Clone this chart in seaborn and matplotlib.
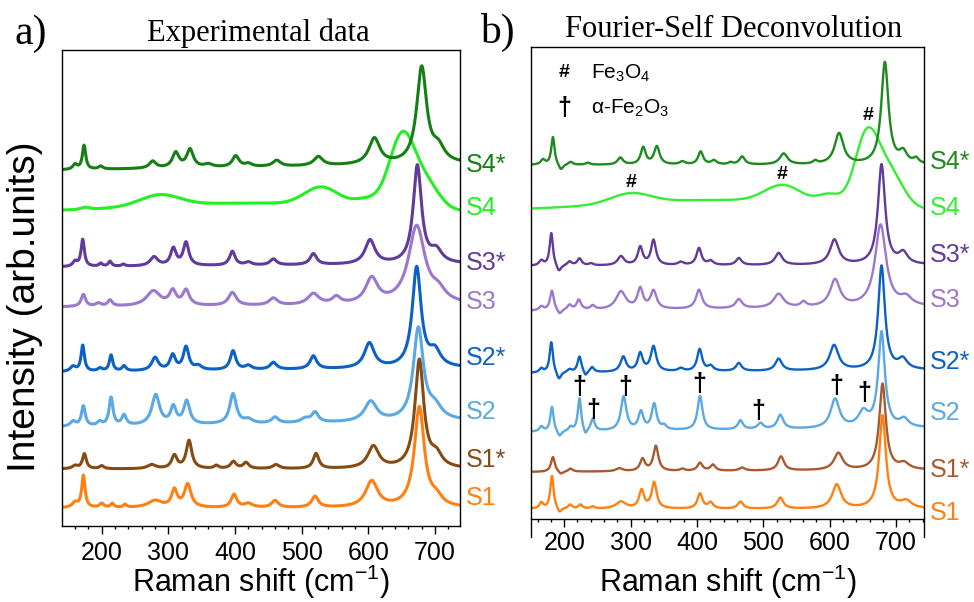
import numpy as np
import pandas as pd
import matplotlib.pyplot as plt
from matplotlib.ticker import MultipleLocator
import seaborn as sns

# Samples, bottom to top
samples = ["S1", "S1*", "S2", "S2*", "S3", "S3*", "S4", "S4*"]
exp_colors = ["#ff8010", "#854b12", "#5aa8e4", "#0b62c4", "#9b78cf", "#613a9b", "#22f022", "#157f15"]
fsd_colors = ["#ff8010", "#a85a2e", "#5aa8e4", "#0b62c4", "#9b78cf", "#613a9b", "#33ee33", "#1e8a1e"]

# baseline level (left end, right end) of each trace, arb. units
exp_base = [(18, 18), (57, 57), (99, 105), (154, 158), (219, 221), (259, 262), (314, 314), (356, 362)]
fsd_base = [(10, 10), (47, 49), (87, 91), (146, 149), (208, 212), (253, 254), (308, 308), (354, 354)]

# the broad S4 bands look gaussian, the rest lorentzian
exp_gauss = [False, False, False, False, False, False, True, False]
fsd_gauss = [False, False, False, False, False, False, True, False]

# peaks read off panel a): (Raman shift cm-1, height, FWHM)
exp_s1 = [(160, 5, 10), (172.5, 32, 6), (200, 4, 8), (216, 4, 6), (235, 3, 6), (280, 7, 25),
          (309, 17, 10), (329, 23, 12), (398.5, 13, 10), (420, 4, 15), (460, 7, 12),
          (520, 11, 12), (605, 26, 22), (676.5, 100, 18), (702, 8, 20)]
exp_s1s = [(160, 3, 10), (174, 15, 7), (200, 3, 8), (275, 4, 15), (309, 13, 10), (331, 28, 10),
           (372, 3, 8), (397.5, 7, 10), (416.5, 6, 10), (461.5, 4, 12), (521.5, 15, 10),
           (607.5, 22, 20), (676.5, 108, 16), (702, 12, 20)]
exp_s2 = [(157, 5, 10), (172.5, 20, 7), (197, 4, 8), (214, 28, 7), (233.5, 10, 8), (281, 30, 14),
          (307.5, 17, 10), (327.5, 23, 11), (397, 30, 12), (420, 4, 15), (460, 6, 12),
          (505, 4, 15), (520, 10, 12), (603.5, 20, 22), (675, 92, 18), (700, 12, 25)]
exp_s2s = [(157, 5, 10), (171.5, 26, 6), (197.5, 3, 8), (214, 16, 6), (233.5, 5, 7), (280, 13, 12),
           (306.5, 15, 10), (326.5, 23, 10), (345, 4, 12), (397, 19, 10), (420, 4, 12),
           (457.5, 7, 12), (517.5, 13, 12), (601.5, 25, 18), (672.5, 100, 16), (700, 15, 20)]
exp_s3 = [(172.5, 12, 8), (195, 3, 10), (212.5, 6, 8), (277.5, 15, 25), (306.5, 14, 12),
          (326.5, 15, 12), (396, 13, 14), (457.5, 7, 15), (517.5, 11, 20), (552, 7, 15),
          (605, 25, 22), (672.5, 78, 30), (705, 10, 25)]
exp_s3s = [(160, 5, 8), (171.5, 27, 6), (198.5, 3, 6), (212.5, 5, 6), (232.5, 2, 6), (278.5, 9, 14),
           (307.5, 17, 10), (326.5, 23, 10), (396, 14, 10), (420, 3, 12), (457.5, 6, 12),
           (517.5, 11, 12), (602.5, 24, 18), (673.5, 98, 15), (702, 12, 20)]
exp_s4 = [(175, 2, 15), (287, 11, 70), (420, 9, 380), (530, 18, 60), (600, 8, 50),
          (651, 73, 45), (688, 24, 45)]
exp_s4s = [(160, 5, 8), (173.5, 24, 6), (198.5, 3, 8), (276.5, 7, 12), (311, 15, 12),
           (332.5, 18, 12), (360, 3, 15), (401, 11, 12), (420, 3, 12), (462.5, 6, 14),
           (525, 9, 16), (609, 26, 20), (680, 96, 18), (705, 14, 22)]

# peaks read off panel b), negative heights are the FSD side lobes
fsd_s1 = [(165.5, 6, 7), (181.5, 33, 6), (193, -5, 7), (209, 4, 7), (224.5, 4, 7), (243, 2, 7),
          (285.5, 7, 18), (316.5, 18, 9), (335.5, 26, 9), (404.5, 15, 9), (420.5, 6, 9),
          (465.5, 7, 10), (525.5, 11, 11), (610.5, 24, 16), (679.5, 93, 12), (715, 7, 20)]
fsd_s1s = [(183, 15, 7), (195, -3, 8), (209.5, 3, 8), (283, 3, 12), (318, 12, 9), (338, 25, 9),
           (378, 2, 8), (404.5, 8, 9), (424, 6, 9), (468, 3, 10), (526.5, 14, 11),
           (613, 17, 16), (679.5, 86, 12), (712, 6, 18)]
fsd_s2 = [(165.5, 5, 7), (181.5, 25, 6), (193, -6, 8), (209.5, 4, 7), (223, 33, 6), (232, -6, 6),
          (243, 12, 7), (289.5, 34, 10), (315.5, 18, 9), (335.5, 26, 9), (350.5, 4, 8),
          (404.5, 34, 9), (465.5, 9, 9), (495.5, 6, 10), (525.5, 14, 11), (608, 29, 16),
          (650.5, 15, 18), (678, 95, 12), (712, 8, 16)]
fsd_s2s = [(165.5, 4, 7), (180.5, 31, 6), (192, -8, 8), (208, 3, 8), (223, 16, 7), (232, -5, 6),
           (242, 5, 7), (289, 15, 10), (314.5, 18, 9), (334.5, 25, 10), (375.5, 3, 10),
           (404, 22, 9), (420.5, 5, 10), (463, 8, 10), (523, 12, 12), (606.5, 25, 16),
           (678, 104, 12), (710, 10, 16)]
fsd_s3 = [(165.5, 4, 8), (181.5, 20, 7), (193, -5, 8), (208, 5, 8), (222, 10, 8), (243, 4, 8),
          (285.5, 18, 18), (314.5, 20, 10), (334.5, 18, 11), (403, 19, 11), (463, 9, 12),
          (523, 14, 18), (560.5, 5, 10), (608, 27, 18), (676.5, 82, 20), (715, 8, 20)]
fsd_s3s = [(165.5, 5, 8), (180.5, 33, 6), (192, -7, 8), (208, 4, 8), (223, 7, 8), (240.5, 2, 8),
           (285.5, 9, 12), (314.5, 18, 9), (334.5, 25, 9), (375.5, 3, 10), (403, 17, 9),
           (420.5, 4, 10), (463, 7, 10), (523, 12, 13), (607, 25, 16), (678, 100, 13),
           (710.5, 11, 16)]
fsd_s4 = [(300, 10, 70), (430, 11, 380), (530, 17, 65), (600, 10, 40), (655.5, 70, 42),
          (690, 35, 48)]
fsd_s4s = [(168, 5, 8), (183, 28, 6), (195, -6, 8), (209.5, 3, 8), (235.5, 2, 8), (284.5, 7, 10),
           (319, 17, 9), (339.5, 18, 10), (378, 3, 10), (405.5, 13, 9), (425.5, 4, 10),
           (450.5, 2, 8), (468, 8, 10), (530.5, 11, 14), (578, 3, 8), (614, 31, 16),
           (683, 102, 13), (710.5, 11, 14), (730, 5, 10)]

exp_peaks = [exp_s1, exp_s1s, exp_s2, exp_s2s, exp_s3, exp_s3s, exp_s4, exp_s4s]
fsd_peaks = [fsd_s1, fsd_s1s, fsd_s2, fsd_s2s, fsd_s3, fsd_s3s, fsd_s4, fsd_s4s]

# phase markers in panel b): (shift, height)
magnetite_marks = [(300.5, 336), (528, 344), (658, 403)]
hematite_marks = [(223, 132), (243, 109), (291.5, 132), (404, 135), (492, 108), (610.5, 133), (652, 126)]

# where the sample names sit on the right of each panel (data units)
exp_label_y = [28, 66, 114, 168, 224, 263, 318, 361]
fsd_label_y = [6, 49, 106, 157, 219, 264, 311, 357]


def trace(shift, base, peaks, gauss):
    y = np.linspace(base[0], base[1], shift.size)
    for pos, height, fwhm in peaks:
        u = (shift - pos) / (fwhm / 2)
        if gauss:
            y = y + height * np.exp(-np.log(2) * u ** 2)
        else:
            y = y + height / (1 + u ** 2)
    return y


def draw_panel(ax, shift, bases, peaks, gauss, colors, label_y, lw, tick_pad):
    frames = []
    for name, base, pk, g in zip(samples, bases, peaks, gauss):
        frames.append(pd.DataFrame({"shift": shift, "intensity": trace(shift, base, pk, g),
                                    "sample": name}))
    df = pd.concat(frames, ignore_index=True)
    sns.lineplot(data=df, x="shift", y="intensity", hue="sample", hue_order=samples,
                 palette=dict(zip(samples, colors)), estimator=None, sort=False,
                 legend=False, lw=lw, ax=ax)
    for name, color, y in zip(samples, colors, label_y):
        ax.annotate(name, xy=(1, y), xycoords=("axes fraction", "data"), xytext=(4, 0),
                    textcoords="offset points", va="center", ha="left",
                    color=color, fontsize=18, annotation_clip=False)
    ax.xaxis.set_major_locator(MultipleLocator(100))
    ax.xaxis.set_minor_locator(MultipleLocator(20))
    ax.set_yticks([])
    ax.set_ylabel("")
    ax.set_xlabel("Raman shift (cm$^{-1}$)", fontsize=22)
    ax.tick_params(axis="x", which="major", direction="out", length=6, width=1,
                   labelsize=18, pad=tick_pad, colors="black")
    ax.tick_params(axis="x", which="minor", direction="out", length=2.5, width=1, colors="black")
    for sp in ax.spines.values():
        sp.set_visible(True)
        sp.set_linewidth(1.0)
        sp.set_color("black")


def main():
    sns.set_style("ticks")
    plt.rcParams["font.family"] = ["Liberation Sans", "DejaVu Sans"]
    plt.rcParams["mathtext.default"] = "regular"
    plt.rcParams["text.color"] = "black"
    plt.rcParams["axes.labelcolor"] = "black"

    fig = plt.figure(figsize=(9.74, 6.02), dpi=100)
    ax1 = fig.add_axes([0.0637, 0.1262, 0.4086, 0.7907])
    ax2 = fig.add_axes([0.5452, 0.1379, 0.4035, 0.7841])

    exp_shift = np.arange(140, 738.5, 0.5)
    fsd_shift = np.arange(150, 742.5, 0.5)

    draw_panel(ax1, exp_shift, exp_base, exp_peaks, exp_gauss, exp_colors, exp_label_y, 2.2, 5)
    draw_panel(ax2, fsd_shift, fsd_base, fsd_peaks, fsd_gauss, fsd_colors, fsd_label_y, 1.7, 3)
    ax1.set_xlim(140.5, 737.5)
    ax1.set_ylim(0, 476)
    ax2.set_xlim(150, 742)
    ax2.set_ylim(0, 472)
    ax2.spines["left"].set_bounds(-18, 472)
    ax2.spines["right"].set_bounds(-18, 472)
    # x labels: top edge at about y = 563 px in both panels
    ax1.xaxis.set_label_coords(0.5, -(563 - 526) / 476)
    ax2.xaxis.set_label_coords(0.5, -(563 - 519) / 472)

    for x, y in magnetite_marks:
        ax2.text(x, y, "#", ha="center", va="center", fontsize=14, fontweight="bold")
    for x, y in hematite_marks:
        ax2.text(x, y, "\u2020", ha="center", va="center", fontsize=18, fontweight="bold")
    ax2.text(200.5, 446, "#", ha="center", va="center", fontsize=14, fontweight="bold")
    ax2.text(240, 446, "Fe$_3$O$_4$", ha="left", va="center", fontsize=15)
    ax2.text(200.5, 411, "\u2020", ha="center", va="center", fontsize=18, fontweight="bold")
    ax2.text(240, 411, "\u03b1-Fe$_2$O$_3$", ha="left", va="center", fontsize=15)

    serif = ["Liberation Serif", "DejaVu Serif"]
    fig.text(0.265, 0.932, "Experimental data", ha="center", va="baseline", fontsize=22, family=serif)
    fig.text(0.7536, 0.9385, "Fourier-Self Deconvolution", ha="center", va="baseline", fontsize=22, family=serif)
    fig.text(0.015, 0.927, "a)", ha="left", va="baseline", fontsize=30, family=serif)
    fig.text(0.493, 0.929, "b)", ha="left", va="baseline", fontsize=30, family=serif)
    fig.text(0.026, 0.49, "Intensity (arb.units)", rotation=90, ha="center", va="center", fontsize=28)

    fig.savefig("out.png", dpi=100, facecolor="white")


if __name__ == "__main__":
    main()
